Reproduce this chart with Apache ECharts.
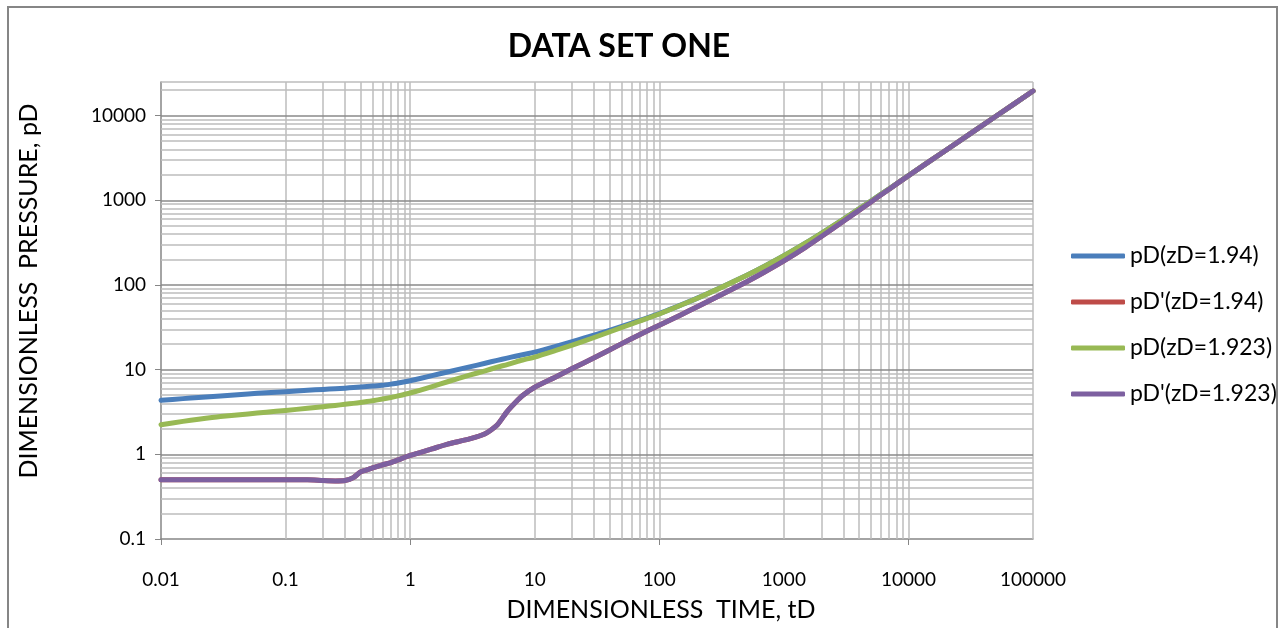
<!DOCTYPE html>
<html><head><meta charset="utf-8">
<script src="https://cdn.jsdelivr.net/npm/echarts@6/dist/echarts.min.js"></script>
<style>html,body{margin:0;padding:0;background:#fff}#c{width:1280px;height:628px}</style>
</head><body><div id="c"></div>
<script>
// Dimensionless time (x)
const tD = [0.01,0.015,0.02,0.03,0.05,0.07,0.1,0.15,0.2,0.25,0.3,0.35,0.4,0.45,0.5,0.6,0.7,0.8,1,1.5,2,3,4,5,6,7,8,10,15,20,30,50,70,100,150,200,300,500,700,1000,1500,2000,3000,5000,7000,10000,20000,50000,100000];
// pD (zD=1.94)
const pD_194 = [4.34,4.55,4.7,4.9,5.15,5.35,5.5,5.7,5.85,5.95,6.05,6.15,6.25,6.32,6.4,6.55,6.75,6.95,7.4,8.5,9.4,10.8,11.9,12.9,13.7,14.4,15,16.1,19,21.5,25.5,32.5,38.3,46.0,58.4,69.6,90.8,129.5,166.7,221.8,314.3,408.4,597.9,981.3,1369,1956,3912,9780,19560];
// pD' (zD=1.94)
const pDp_194 = [0.5,0.5,0.5,0.5,0.5,0.5,0.5,0.5,0.49,0.485,0.49,0.53,0.62,0.655,0.69,0.75,0.8,0.86,0.97,1.16,1.32,1.52,1.75,2.22,3.2,4.1,4.95,6.2,8.3,10.3,13.8,20.3,26.0,33.5,44.6,55.0,74.3,108.8,142.5,192.9,280.6,374.7,566.7,957.4,1355,1956,3912,9780,19560];
// pD (zD=1.923)
const pD_1923 = [2.24,2.45,2.6,2.8,3.0,3.15,3.3,3.5,3.65,3.78,3.9,4.0,4.1,4.2,4.3,4.5,4.7,4.9,5.3,6.3,7.2,8.6,9.7,10.7,11.5,12.3,13.0,14.1,17,19.5,24,31.5,37.6,45.5,58.0,69.3,90.6,129.5,166.7,221.8,314.3,408.4,597.9,981.3,1369,1956,3912,9780,19560];
// pD' (zD=1.923)
const pDp_1923 = [0.5,0.5,0.5,0.5,0.5,0.5,0.5,0.5,0.49,0.485,0.49,0.53,0.62,0.655,0.69,0.75,0.8,0.86,0.97,1.16,1.32,1.52,1.75,2.22,3.2,4.1,4.95,6.2,8.3,10.3,13.8,20.3,26.0,33.5,44.6,55.0,74.3,108.8,142.5,192.9,280.6,374.7,566.7,957.4,1355,1956,3912,9780,19560];

const seriesNames = ['pD(zD=1.94)', "pD'(zD=1.94)", 'pD(zD=1.923)', "pD'(zD=1.923)"];
const seriesColors = ['#4a7ebb', '#be4b48', '#98b954', '#7d60a0'];
const xTickLabels = [0.01, 0.1, 1, 10, 100, 1000, 10000, 100000];
const xTickMarks = [0.01, 1, 100, 10000];
const yTickLabels = [0.1, 1, 10, 100, 1000, 10000];
const xMinorDecades = [0.1, 10, 1000];
const yMin = 0.1, yMax = 25000;

const FONT = 'Lato, "Open Sans", sans-serif';

// gridline values
const vMajor = xTickLabels.slice(1);
const vMinor = [];
xMinorDecades.forEach(d => { for (let k = 2; k <= 9; k++) vMinor.push(+(k * d).toPrecision(6)); });
const hMajor = yTickLabels.slice(1).concat([yMax]);
const hMinor = [];
yTickLabels.forEach(d => { for (let k = 2; k <= 9; k++) { const v = +(k * d).toPrecision(6); if (v < yMax) hMinor.push(v); } });

const light = '#bdbdbd', dark = '#8a8a8a';
const gridData = []
  .concat(vMinor.map(v => ({ xAxis: v, lineStyle: { color: light } })))
  .concat(vMajor.map(v => ({ xAxis: v, lineStyle: { color: light } })))
  .concat(hMinor.map(v => ({ yAxis: v, lineStyle: { color: light } })))
  .concat(hMajor.map(v => ({ yAxis: v, lineStyle: { color: v === yMax ? light : dark } })));

const dataSets = [pD_194, pDp_194, pD_1923, pDp_1923];
const lineSeries = dataSets.map((arr, i) => ({
  name: seriesNames[i],
  type: 'line',
  data: tD.map((t, j) => [t, arr[j]]),
  showSymbol: false,
  symbol: 'none',
  smooth: 0.2,
  z: 5,
  lineStyle: { color: seriesColors[i], width: 5, cap: 'round', join: 'round' },
  itemStyle: { color: seriesColors[i] },
  emphasis: { disabled: true },
  animation: false
}));

const chart = echarts.init(document.getElementById('c'), null, { renderer: 'canvas' });
chart.setOption({
  animation: false,
  backgroundColor: '#fff',
  grid: { left: 161, top: 82, right: 247, bottom: 89, containLabel: false },
  xAxis: {
    type: 'log', logBase: 10, min: 0.01, max: 100000,
    axisLine: { show: true, onZero: false, lineStyle: { color: '#868686', width: 1.5 } },
    axisTick: { show: true, inside: false, length: 6, customValues: xTickMarks, lineStyle: { color: '#868686', width: 1 } },
    axisLabel: { customValues: xTickLabels, formatter: v => String(v), margin: 31, fontSize: 19, fontFamily: FONT, color: '#000' },
    splitLine: { show: false }, minorTick: { show: false }, minorSplitLine: { show: false }
  },
  yAxis: {
    type: 'log', logBase: 10, min: yMin, max: yMax,
    axisLine: { show: true, onZero: false, lineStyle: { color: '#868686', width: 1.5 } },
    axisTick: { show: true, inside: false, length: 6, customValues: yTickLabels, lineStyle: { color: '#868686', width: 1 } },
    axisLabel: { customValues: yTickLabels, formatter: v => String(v), margin: 15, fontSize: 19, fontFamily: FONT, color: '#000' },
    splitLine: { show: false }, minorTick: { show: false }, minorSplitLine: { show: false }
  },
  legend: {
    orient: 'vertical', left: 1066, top: 239,
    icon: 'roundRect',
    itemWidth: 54, itemHeight: 5, itemGap: 22,
    data: seriesNames,
    textStyle: { fontSize: 23, lineHeight: 24, fontFamily: FONT, color: '#000' },
    selectedMode: false
  },
  graphic: [
    { type: 'rect', shape: { x: 8, y: 7, width: 1269, height: 660 }, style: { fill: 'none', stroke: '#868686', lineWidth: 2 }, silent: true, z: 0 },
    { type: 'text', x: 619, y: 47, style: { text: 'DATA SET ONE', align: 'center', verticalAlign: 'middle', font: 'bold 32px ' + FONT, fill: '#000' }, z: 10 },
    { type: 'text', x: 661, y: 610, style: { text: 'DIMENSIONLESS  TIME, tD', align: 'center', verticalAlign: 'middle', font: '25px ' + FONT, fill: '#000' } },
    { type: 'text', x: 29, y: 291, rotation: Math.PI / 2, style: { text: 'DIMENSIONLESS  PRESSURE, pD', x: 0, y: 0, align: 'center', verticalAlign: 'middle', font: '25px ' + FONT, fill: '#000' } }
  ],
  series: [{
    type: 'line', data: [], silent: true, z: 1, legendHoverLink: false,
    markLine: { silent: true, symbol: 'none', animation: false, label: { show: false }, emphasis: { disabled: true }, lineStyle: { type: 'solid', width: 1.5 }, data: gridData }
  }].concat(lineSeries)
});
</script></body></html>
